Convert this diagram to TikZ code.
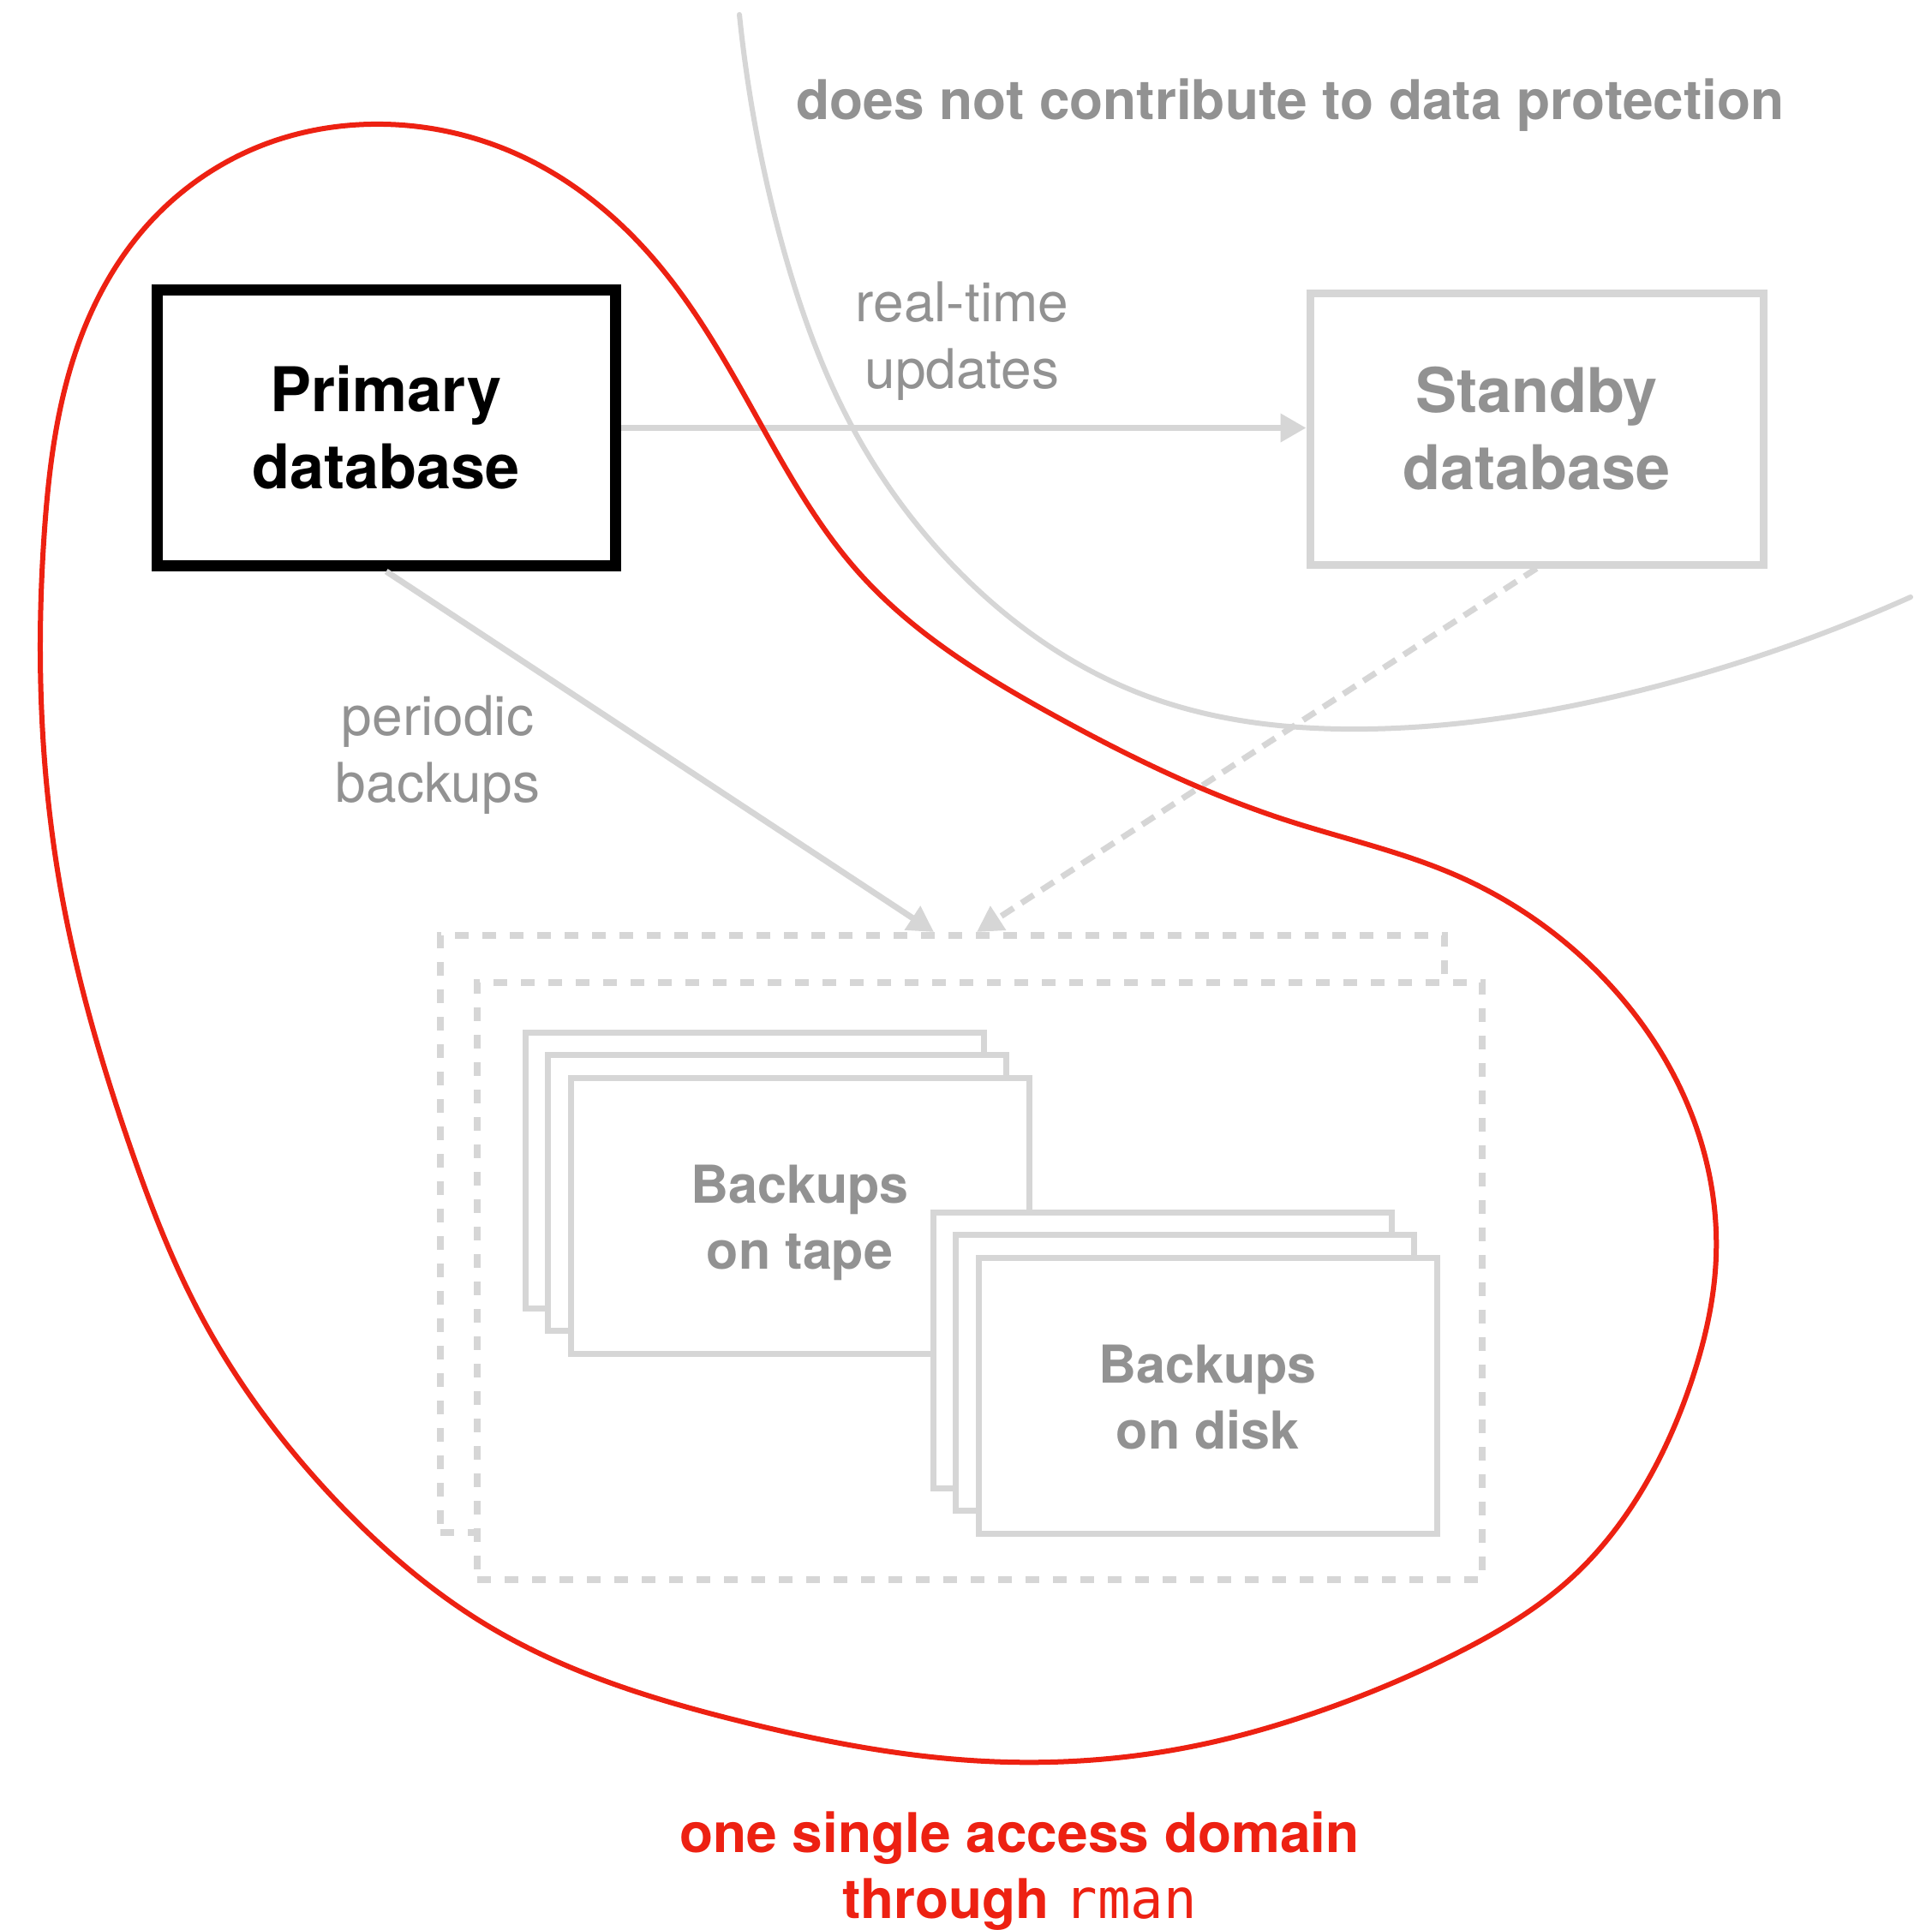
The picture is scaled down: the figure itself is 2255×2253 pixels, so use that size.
\documentclass[tikz,border=0pt]{standalone}
\usepackage{fontspec}
\setmainfont{TeX Gyre Heros}
\newfontfamily\rmanfont{DejaVu Sans Mono}
\usetikzlibrary{arrows.meta,hobby}
\definecolor{lg}{RGB}{214,214,214}
\definecolor{tg}{RGB}{146,146,146}
\definecolor{rd}{RGB}{237,33,18}
\begin{document}
\begin{tikzpicture}[x=1pt,y=-1pt,
  dbbox/.style={draw, inner sep=0pt, align=center, font=\fontsize{72}{90}\selectfont\bfseries},
  stackbox/.style={draw=lg, fill=white, line width=7pt, minimum width=535pt, minimum height=322pt, inner sep=0pt},
  dashbox/.style={draw=lg, fill=white, line width=8pt, dash pattern=on 16pt off 16pt, minimum width=1172pt, minimum height=697pt, inner sep=0pt},
  boxlabel/.style={inner sep=0pt, align=center, text=tg, font=\fontsize{61}{77}\selectfont\bfseries},
  edgelabel/.style={inner sep=0pt, align=center, text=tg, font=\fontsize{64}{78}\selectfont},
  conn/.style={draw=lg, line width=7pt, -{Triangle[length=30pt,width=32pt]}},
  dconn/.style={conn, dash pattern=on 17pt off 11pt}]
\useasboundingbox (0,0) rectangle (2255,2253);
\fill[white] (0,0) rectangle (2255,2253);

% database boxes
\node[dbbox, line width=13pt, minimum width=534.5pt, minimum height=322pt] (primary) at (450.75,499.5) {Primary\\database};
\node[dbbox, draw=lg, text=tg, line width=9pt, minimum width=529pt, minimum height=317pt] (standby) at (1793.5,500.5) {Standby\\database};

% backup store (two dashed frames)
\node[dashbox] (store) at (1100,1440.5) {};
\node[dashbox, minimum width=1173pt] (store2) at (1143.5,1495.5) {};

% tape stack
\node[stackbox] (tape1) at (880.5,1366) {};
\node[stackbox] (tape2) at (907,1392.5) {};
\node[stackbox] (tape3) at (933.5,1419) {};
\node[boxlabel] (tapelabel) at (933.5,1427.5) {Backups\\on tape};

% disk stack
\node[stackbox] (disk1) at (1356.5,1576) {};
\node[stackbox] (disk2) at (1383,1602.5) {};
\node[stackbox] (disk3) at (1409.5,1629) {};
\node[boxlabel] (disklabel) at (1409.5,1631.5) {Backups\\on disk};

% connectors
\coordinate (t1) at ([xshift=-10pt]store.north);
\coordinate (t2) at ([xshift=40pt]store.north);
\draw[conn] (primary.east) -- (primary.east -| standby.west);
\draw[conn] (primary.south) -- (t1);
\draw[dconn] (standby.south) -- (t2);

% labels
\node[edgelabel] (rtlabel) at (1123,398) {real-time\\updates};
\node[edgelabel] (pblabel) at (511,881) {periodic\\backups};
\node[anchor=base, inner sep=0pt, text=tg, font=\fontsize{64}{78}\selectfont\bfseries] (nocontrib) at (1506,140) {does not contribute to data protection};
\node[inner sep=0pt, align=center, text=rd, font=\fontsize{64}{77}\selectfont\bfseries] (domain) at (1190,2184) {one single access domain\\through {\rmanfont\mdseries rman}};

% grey boundary curve
\draw[lg, line width=6pt, line cap=round, use Hobby shortcut]
 (863,17) .. (882,150) .. (917,300) .. (995,499) .. (1120,668)
 .. (1337,812) .. (1596,851) .. (1898,810) .. (2230,697);

% red access-domain loop
\draw[rd, line width=6pt, use Hobby shortcut, closed=true]
 (52,618) .. (92,400) .. (170,265) .. (300,172) .. (433,145) .. (610,183) .. (767,307)
 .. (890,499) .. (1002,668) .. (1230,835) .. (1500,957) .. (1700,1022) .. (1867,1137)
 .. (1967,1283) .. (2003,1467) .. (1975,1610) .. (1918,1737) .. (1833,1843) .. (1700,1930)
 .. (1533,2000) .. (1400,2037) .. (1150,2056) .. (863,2009) .. (573,1900) .. (400,1760)
 .. (233,1533) .. (150,1333) .. (73,1050) .. (47,750);
\end{tikzpicture}
\end{document}
